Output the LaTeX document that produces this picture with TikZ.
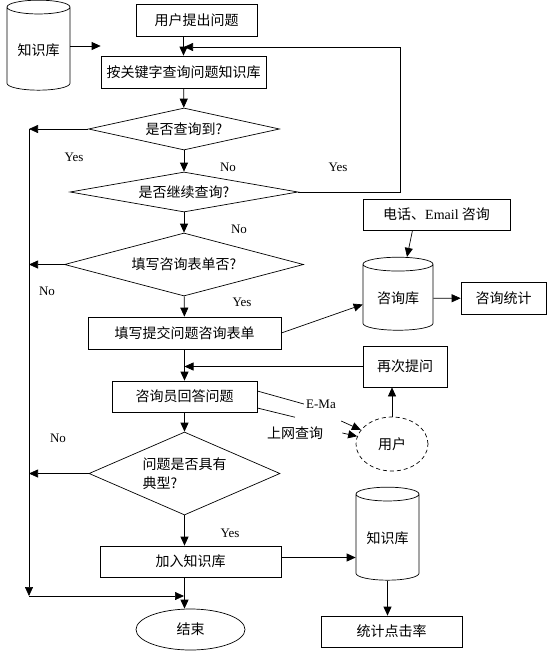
\documentclass[tikz,border=0pt]{standalone}
\usepackage{fontspec}
\setmainfont{Liberation Serif}
\newfontfamily\cjk{Noto Sans CJK SC}
\usetikzlibrary{shapes.geometric,arrows.meta}

\begin{document}
\begin{tikzpicture}[x=1pt, y=-1pt, line width=0.7pt, >={Triangle[length=9pt,width=8pt]},
    every node/.style={font=\cjk\fontsize{14}{19}\selectfont, inner sep=2pt},
    box/.style={rectangle, draw},
    choice/.style={diamond, draw, inner sep=0pt},
    db/.style={cylinder, draw, shape border rotate=90, aspect=0.3},
    lbl/.style={font=\rmfamily\fontsize{13}{15}\selectfont}]
      \useasboundingbox (0,0) rectangle (550,656);
      % main column
      \node (ask) at (196.5,20) [box, minimum width=121pt, minimum height=32pt] {用户提出问题};
      \node (kb) at (38.5,50) [db, minimum width=63pt, minimum height=90pt] {知识库};
      \node (search) at (183.5,72) [box, minimum width=165pt, minimum height=32pt] {按关键字查询问题知识库};
      \node (found) at (184,129) [choice, minimum width=191pt, minimum height=42pt, aspect=4.5] {是否查询到?};
      \node (cont) at (184,192) [choice, minimum width=228pt, minimum height=40pt, aspect=5.7] {是否继续查询?};
      \node (form) at (184,264.5) [choice, minimum width=239pt, minimum height=63pt, aspect=3.8] {填写咨询表单否?};
      \node (fill) at (184.5,333) [box, minimum width=193pt, minimum height=32pt] {填写提交问题咨询表单};
      \node (answer) at (184.5,396.5) [box, minimum width=145pt, minimum height=31pt] {咨询员回答问题};
      \node (typ) at (184.5,473.5) [choice, minimum width=191pt, minimum height=83pt, aspect=2.3, align=left] {问题是否具有\\典型?};
      \node (addkb) at (190.5,561.5) [box, minimum width=181pt, minimum height=31pt] {加入知识库};
      \node (endn) at (190.5,629.5) [ellipse, draw, minimum width=109pt, minimum height=41pt] {结束};
      % right side
      \node (phone) at (436.5,214.5) [box, minimum width=147pt, minimum height=31pt] {电话、{\rmfamily Email} 咨询};
      \node (cdb) at (398,298.5) [db, minimum width=70pt, minimum height=73pt] {咨询库};
      \node (cstat) at (503.5,298) [box, minimum width=85pt, minimum height=32pt] {咨询统计};
      \node (again) at (405,366.5) [box, minimum width=84pt, minimum height=41pt] {再次提问};
      \node (user) at (392,444) [ellipse, draw, dash pattern=on 4pt off 3pt, minimum width=72pt, minimum height=54pt] {用户};
      \node (kb2) at (387.5,538.5) [db, minimum width=63pt, minimum height=93pt] {知识库};
      \node (hits) at (391.5,631.5) [box, minimum width=141pt, minimum height=31pt] {统计点击率};
      % labels
      \node (y1) at (74,157) [lbl] {Yes};
      \node (n1) at (228,167) [lbl] {No};
      \node (y2) at (338,167) [lbl] {Yes};
      \node (n2) at (239,229) [lbl] {No};
      \node (n3) at (47,291) [lbl] {No};
      \node (y3) at (242,302) [lbl] {Yes};
      \node (n4) at (58,438) [lbl] {No};
      \node (y4) at (230,533) [lbl] {Yes};
      \node (ema) at (321,404) [lbl] {E-Ma};
      \node (web) at (295,433) {上网查询};
      % bends
      \coordinate (l1) at (29,129);
      \coordinate (l4) at (29,596);
      \coordinate (r2) at (400,47);
      \coordinate (j1) at (184,47);
      \coordinate (j4) at (184,596);
      \foreach \source/\dest in {search/found, found/cont, cont/form, form/fill, fill/answer, answer/typ, cdb/cstat}
        \draw[->] (\source) -- (\dest);
      \draw[->] (search.north |- ask.south) -- (search.north);
      \draw[->] ([yshift=4pt]kb.east) -- ([yshift=4pt]kb.east -| search.west);
      \draw[->] (cont.east) -- (cont.east -| r2) -- (r2) -- (j1);
      \draw[->] (found.west) -- (l1);
      \draw[->] (form.west) -- (form.west -| l1);
      \draw[->] (typ.west) -- (typ.west -| l1);
      \draw[->] (l1) -- (l4);
      \draw[->] (l4) -- (j4);
      \draw[->] (typ.south) -- (typ.south |- addkb.north);
      \draw[->] (typ.south |- addkb.south) -- (typ.south |- endn.north);
      \draw[->] (fill.east) -- ([yshift=-6pt]cdb.west);
      \draw[->] ([xshift=-24pt]phone.south) -- ([xshift=9pt]cdb.north);
      \draw[->] (again.west) -- (again.west -| answer.north);
      \draw[->] (user) -- (user |- again.south);
      \draw ([yshift=5.5pt]answer.east) -- (ema.west);
      \draw ([yshift=-11.5pt]answer.east) -- ([yshift=7pt]web.north);
      \draw[->] ([shift={(3pt,-17pt)}]ema.east) -- (user);
      \draw[->] ([xshift=17pt]web.east) -- (user);
      \draw[->] ([yshift=4pt]addkb.east) -- ([yshift=4pt]addkb.east -| kb2.west);
      \draw[->] (kb2.south) -- (kb2.south |- hits.north);
    \end{tikzpicture}
\end{document}
